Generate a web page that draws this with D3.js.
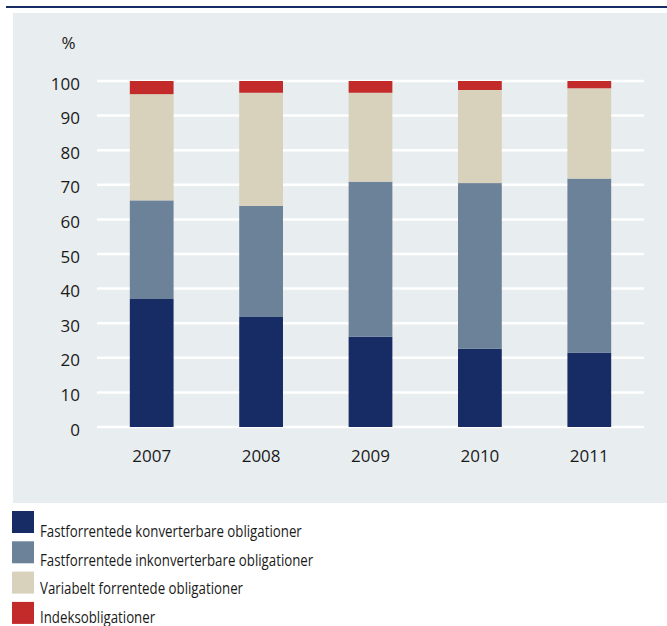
<!DOCTYPE html>
<html>
<head>
<meta charset="utf-8">
<script src="https://cdn.jsdelivr.net/npm/d3@7/dist/d3.min.js"></script>
<style>
  html, body { margin: 0; padding: 0; background: #ffffff; }
  svg { display: block; font-family: "Open Sans", "Noto Sans", sans-serif; }
</style>
</head>
<body>
<svg id="chart" width="667" height="626"></svg>
<script>
// Bond holdings by type, share of total (%)
const years = ["2007", "2008", "2009", "2010", "2011"];
const fastKonverterbare = [37.0, 31.8, 26.1, 22.6, 21.5];
const fastInkonverterbare = [28.5, 32.1, 44.8, 47.9, 50.3];
const variabelt = [30.7, 32.7, 25.7, 26.9, 26.1];
const indeks = [3.8, 3.4, 3.4, 2.6, 2.1];
const yTicks = [0, 10, 20, 30, 40, 50, 60, 70, 80, 90, 100];

const seriesNames = [
  "Fastforrentede konverterbare obligationer",
  "Fastforrentede inkonverterbare obligationer",
  "Variabelt forrentede obligationer",
  "Indeksobligationer"
];
const seriesValues = [fastKonverterbare, fastInkonverterbare, variabelt, indeks];
const colors = ["#172b65", "#6b8299", "#d8d1bb", "#c22b2a"];

const svg = d3.select("#chart");
const textColor = "#1a1a1a";
const fontStack = "\"Open Sans\", \"Noto Sans\", sans-serif";

// top rule and panel
svg.append("rect").attr("x", 6).attr("y", 6).attr("width", 661).attr("height", 2).attr("fill", "#172b65");
svg.append("rect").attr("x", 13).attr("y", 13).attr("width", 654).attr("height", 490).attr("fill", "#e8edf0");

const x = d3.scaleBand().domain(years).range([97, 644]).paddingInner(0.6).paddingOuter(0.3);
const y = d3.scaleLinear().domain([0, 100]).range([427, 81]);

// gridlines
svg.append("g").selectAll("line").data(yTicks).join("line")
  .attr("x1", 97).attr("x2", 644)
  .attr("y1", d => y(d)).attr("y2", d => y(d))
  .attr("stroke", "#ffffff").attr("stroke-width", 2.5);

// y axis labels
const yAxis = d3.axisLeft(y).tickValues(yTicks).tickSize(0).tickPadding(0);
const gy = svg.append("g").attr("transform", "translate(80,0)").call(yAxis);
gy.select(".domain").remove();
gy.selectAll("text").attr("font-size", 17).attr("fill", textColor)
  .attr("font-family", fontStack).attr("dy", "0.47em");

svg.append("text").attr("x", 68.5).attr("y", 49).attr("text-anchor", "middle")
  .attr("font-size", 17).attr("fill", textColor).text("%");

// stacked bars
const rows = years.map((yr, i) => {
  const r = { year: yr };
  seriesNames.forEach((n, j) => { r[n] = seriesValues[j][i]; });
  return r;
});
const stacked = d3.stack().keys(seriesNames)(rows);

svg.append("g").selectAll("g").data(stacked).join("g")
  .attr("fill", (d, i) => colors[i])
  .selectAll("rect").data(d => d).join("rect")
  .attr("x", d => x(d.data.year))
  .attr("width", x.bandwidth())
  .attr("y", d => y(d[1]))
  .attr("height", d => y(d[0]) - y(d[1]));

// x axis labels
const xAxis = d3.axisBottom(x).tickSize(0).tickPadding(0);
const gx = svg.append("g").attr("transform", "translate(0,450)").call(xAxis);
gx.select(".domain").remove();
gx.selectAll("text").attr("font-size", 17).attr("fill", textColor)
  .attr("font-family", fontStack);

// legend: swatches and narrow-set labels
const legend = svg.append("g");
legend.selectAll("rect").data(seriesNames).join("rect")
  .attr("x", 12).attr("y", (d, i) => 511 + i * 30.3)
  .attr("width", 22).attr("height", 22).attr("fill", (d, i) => colors[i]);
legend.selectAll("text").data(seriesNames).join("text")
  .attr("transform", (d, i) => `translate(40,${536.7 + i * 28.8}) scale(0.83,1)`)
  .attr("font-size", 16).attr("fill", textColor).text(d => d);
</script>
</body>
</html>
